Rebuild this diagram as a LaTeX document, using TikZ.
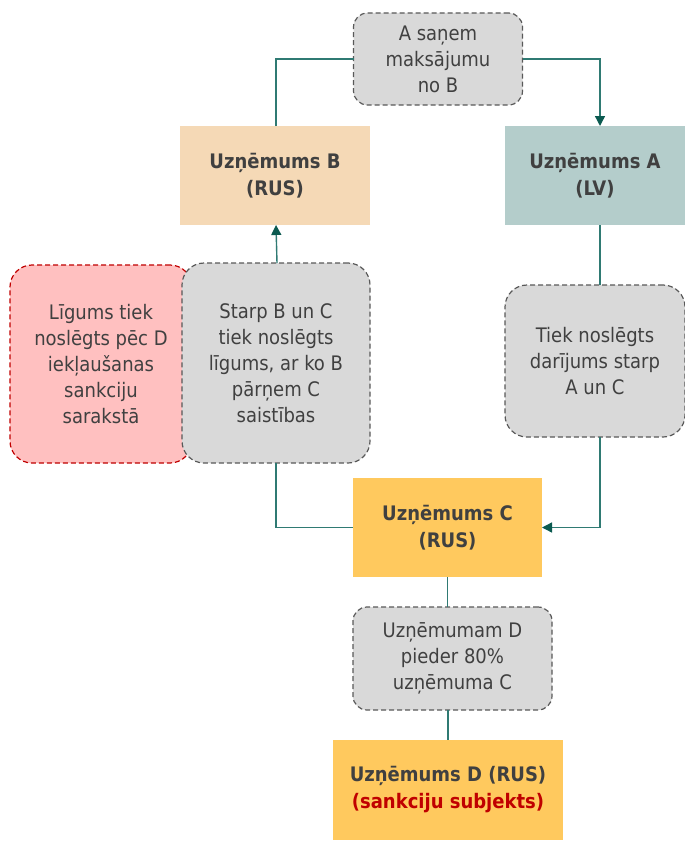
\documentclass[tikz,border=0pt]{standalone}
\usepackage{fontspec}
\setmainfont{DejaVu Sans Condensed}
\usetikzlibrary{arrows.meta}
\definecolor{txt}{HTML}{404040}
\definecolor{notefill}{HTML}{D9D9D9}
\definecolor{noteline}{HTML}{595959}
\definecolor{redfill}{HTML}{FFC0C0}
\definecolor{redline}{HTML}{C00000}
\definecolor{bfill}{HTML}{F5D9B6}
\definecolor{afill}{HTML}{B4CDCB}
\definecolor{cfill}{HTML}{FFC95E}
\definecolor{conn}{HTML}{2F7A73}
\definecolor{tip}{HTML}{0B5A50}
\begin{document}
\begin{tikzpicture}[x=1pt,y=-1pt,
  every node/.style={inner sep=0pt, outer sep=0pt, align=center, text=txt,
    font=\fontsize{20}{26}\selectfont},
  notebox/.style={draw=noteline, fill=notefill, dash pattern=on 5pt off 3pt, line width=1.2pt, rounded corners=14pt},
  redbox/.style={draw=redline, fill=redfill, dash pattern=on 5pt off 3pt, line width=1.2pt, rounded corners=22pt},
  company/.style={font=\fontsize{20}{27}\selectfont\bfseries},
  link/.style={draw=conn, line width=1.4pt},
  arr/.style={link, -{Triangle[width=10pt,length=10pt,color=tip]}}
]
\useasboundingbox (0,0) rectangle (685,843);
% top note
\node[notebox, minimum width=169pt, minimum height=92pt] (nab) at (438,59) {A saņem\\maksājumu\\no B};
% companies
\node[company, fill=bfill, minimum width=190pt, minimum height=99pt] (B) at (275,175.5) {Uzņēmums B\\(RUS)};
\node[company, fill=afill, minimum width=180pt, minimum height=99pt] (A) at (595,175.5) {Uzņēmums A\\(LV)};
% left notes
\node[redbox, minimum width=182pt, minimum height=198pt] (red) at (101,364) {Līgums tiek\\noslēgts pēc D\\iekļaušanas\\sankciju\\sarakstā};
\node[notebox, rounded corners=22pt, minimum width=188pt, minimum height=200pt] (bc) at (276,363) {Starp B un C\\tiek noslēgts\\līgums, ar ko B\\pārņem C\\saistības};
% right note
\node[notebox, rounded corners=22pt, minimum width=180pt, minimum height=152pt] (ac) at (595,361) {Tiek noslēgts\\darījums starp\\A un C};
% C
\node[company, fill=cfill, minimum width=189pt, minimum height=99pt] (C) at (447.5,527.5) {Uzņēmums C\\(RUS)};
\node[notebox, minimum width=199pt, minimum height=103pt] (nd) at (452.5,658.5) {Uzņēmumam D\\pieder 80\%\\uzņēmuma C};
\node[company, fill=cfill, minimum width=230pt, minimum height=100pt] (D) at (448,790) {Uzņēmums D (RUS)\\\textcolor{redline}{(sankciju subjekts)}};
% connectors
\draw[link] ([xshift=1pt]B.north) |- (nab.west);
\draw[arr] (nab.east) -| ([xshift=5pt]A.north);
\draw[arr] ([xshift=1pt]bc.north) -- ([xshift=1pt]B.south);
\draw[link] (bc.south) |- (C.west);
\draw[link] ([xshift=5pt]A.south) -- ([xshift=5pt]ac.north);
\draw[arr] ([xshift=5pt]ac.south) |- (C.east);
\draw[link] (C.south) -- (C.south |- nd.north);
\draw[link] (D.north |- nd.south) -- (D.north);
\end{tikzpicture}
\end{document}
